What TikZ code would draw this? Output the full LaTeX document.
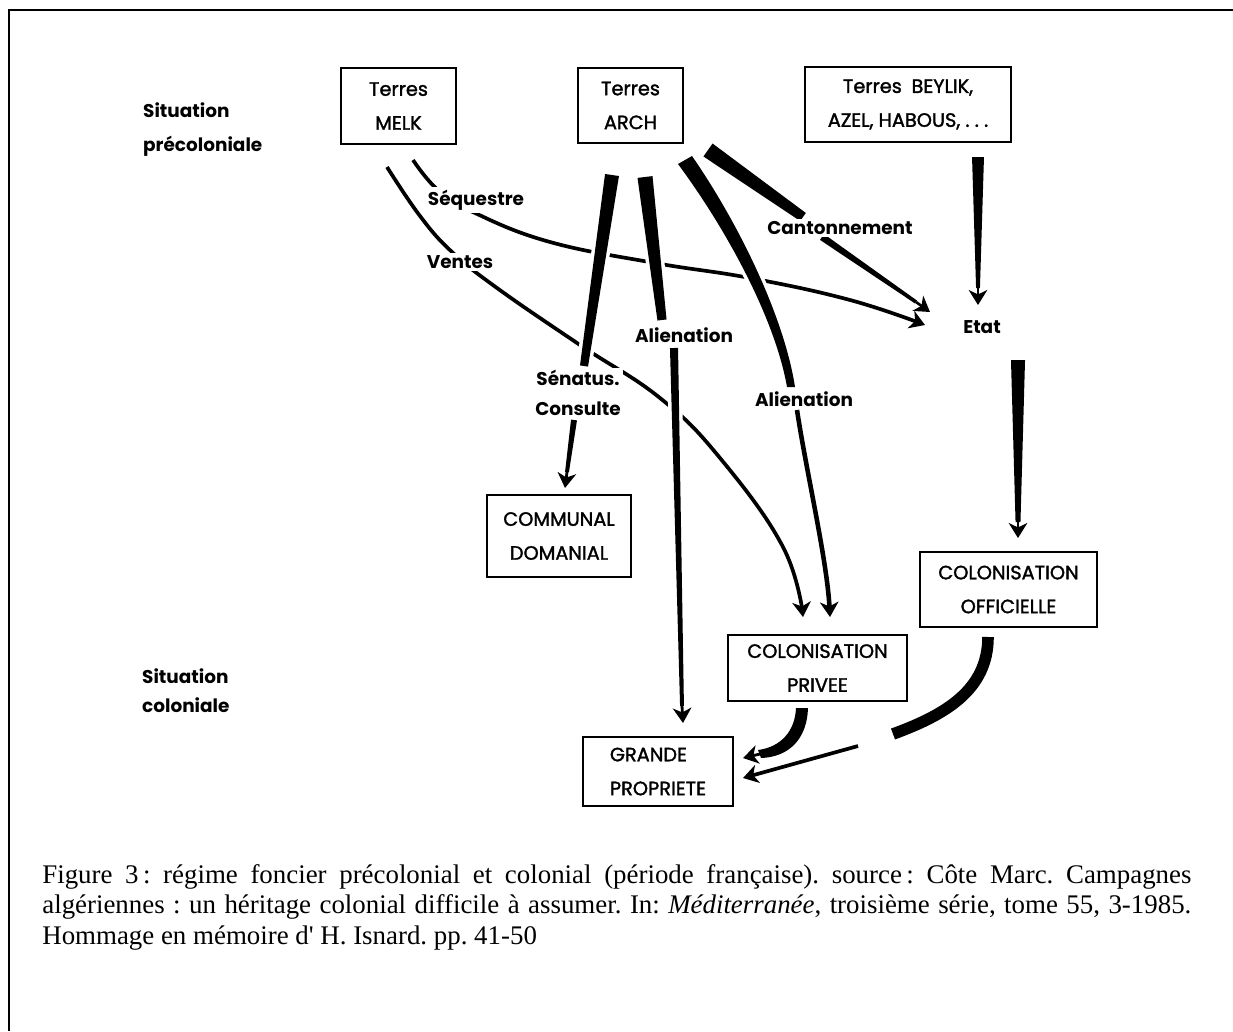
\documentclass[tikz,border=0pt]{standalone}
\usepackage{fontspec}
\setmainfont{Liberation Serif}[Mapping=]
\newfontfamily\stencil{Poppins}
\newfontfamily\stencilbox[FakeBold=1.6]{Poppins}
\usetikzlibrary{arrows.meta,calc}

\newcommand{\boxfont}{\stencilbox\fontsize{11}{19.3}\selectfont}
\newcommand{\lblfont}{\stencil\bfseries\fontsize{10.5}{17}\selectfont}
% tapered stroke: start, end, half width at start, half width at end
\newcommand{\taper}[4]{\fill[halo] ($(#1)!#3!90:(#2)$) -- ($(#1)!#3!-90:(#2)$)
  -- ($(#2)!#4!90:(#1)$) -- ($(#2)!#4!-90:(#1)$) -- cycle;}

\begin{document}
\begin{tikzpicture}[x=0.02cm, y=-0.02cm,
  box/.style={draw, line width=1.6pt, inner sep=0pt, align=center, font=\boxfont},
  lbl/.style={inner sep=1.5pt, fill=white, font=\lblfont},
  arrowtip/.style={-{Stealth[length=8.5pt,width=10.5pt,inset=2.5pt]}},
  thinline/.style={line width=2.1pt},
  halo/.style={preaction={draw=white, line width=4pt, line join=round}}]

\useasboundingbox (0,0) rectangle (1233,1031);
% page frame, only left and top
\draw[line width=1.15pt] (9,1031) -- (9,10) -- (1233,10);

%% boxes
\node[box, minimum width=2.30cm, minimum height=1.52cm] (melk) at (398.5,106) {Terres\\MELK};
\node[box, minimum width=2.10cm, minimum height=1.50cm] (arch) at (630.5,105.5) {Terres\\ARCH};
\node[box, minimum width=4.12cm, minimum height=1.50cm] (beylik) at (908,104.5)
  {Terres\enspace BEYLIK,\\AZEL, HABOUS,\kern3pt.\kern3pt.\kern3pt.};
\node[box, minimum width=2.88cm, minimum height=1.64cm] (communal) at (559,536) {COMMUNAL\\DOMANIAL};
\node[box, minimum width=3.58cm, minimum height=1.32cm] (privee) at (817.5,668) {COLONISATION\\PRIVEE};
\node[box, minimum width=3.54cm, minimum height=1.50cm] (officielle) at (1008.5,589.5) {COLONISATION\\OFFICIELLE};
\node[box, align=left, minimum width=3.00cm, minimum height=1.38cm] (grande) at (658,771.5) {GRANDE\\ PROPRIETE};

%% end points of the flows
\coordinate (be1) at (978,157);  \coordinate (be2) at (978,288);  \coordinate (be3) at (978,305);
\coordinate (eo1) at (1018,360); \coordinate (eo2) at (1018,522); \coordinate (eo3) at (1018,538);
\coordinate (ca1) at (708,150);  \coordinate (ca2) at (803,217);
\coordinate (ca3) at (822,237);  \coordinate (ca4) at (916,302);  \coordinate (ca5) at (930,312);
\coordinate (se1) at (612,175);  \coordinate (se2) at (584,366);
\coordinate (se3) at (574,420);  \coordinate (se4) at (567,472);  \coordinate (se5) at (565,488);
\coordinate (al1) at (645,177);  \coordinate (al2) at (662,320);
\coordinate (al3) at (674,348);  \coordinate (al4) at (682,706);  \coordinate (al5) at (683,723);
\coordinate (ar1) at (685,160);  \coordinate (ar2) at (791,387);
\coordinate (ar3) at (797,410);  \coordinate (ar4) at (830,617);
\coordinate (pg1) at (802,708);  \coordinate (pg2) at (760,754);  \coordinate (pg3) at (743,758);
\coordinate (og1) at (988,637);  \coordinate (og2) at (893,734);
\coordinate (og3) at (858,746);  \coordinate (og4) at (743,778);

%% thin flows out of MELK
% sequestre
\draw[thinline, arrowtip] plot[smooth, tension=0.7] coordinates
  {(413,160) (438,190) (475,213) (550,242) (655,263) (750,278) (850,300) (925,325)};
% ventes
\draw[thinline, arrowtip] plot[smooth, tension=0.7] coordinates
  {(387,167) (420,216) (452,252) (497,288) (580,345) (660,398) (720,458) (783,547) (803,617)};

%% thick flows, white halo where they cut the thin lines
\taper{be1}{be2}{3.4pt}{1.1pt}
\draw[arrowtip, line width=1.6pt] (be2) -- (be3);
\taper{eo1}{eo2}{4pt}{1.4pt}
\draw[arrowtip, line width=1.6pt] (eo2) -- (eo3);
% cantonnement
\taper{ca1}{ca2}{4.5pt}{2.8pt}
\taper{ca3}{ca4}{2pt}{1pt}
\draw[arrowtip, line width=1.5pt] (ca4) -- (ca5);
% senatus-consulte
\taper{se1}{se2}{4pt}{2.3pt}
\taper{se3}{se4}{1.7pt}{1.1pt}
\draw[arrowtip, line width=1.6pt] (se4) -- (se5);
% alienation to the large estates
\taper{al1}{al2}{4.3pt}{2.6pt}
\taper{al3}{al4}{2.3pt}{1.1pt}
\draw[arrowtip, line width=1.6pt] (al4) -- (al5);
% alienation to private colonisation
\fill[halo] (678,164) .. controls (729,233) and (775.5,321) .. (787,387)
  -- (795,387) .. controls (784.5,319) and (741,227) .. (692,156) -- cycle;
\draw[line width=2.6pt, arrowtip] (ar3) .. controls (806,470) and (827,560) .. (ar4);

%% towards the large estates
\fill (796,708) .. controls (795,731) and (781,747) .. (758,750)
  -- (761,758) .. controls (789,757) and (807,739) .. (808,708) -- cycle;
\draw[arrowtip, line width=1.6pt] (pg2) -- (pg3);
\draw[line width=6.6pt] (og1) .. controls (988,690) and (945,715) .. (og2);
\draw[thinline, arrowtip] (og3) -- (og4);

%% labels
\node[anchor=west, align=left, font=\stencil\bfseries\fontsize{10.5}{19.3}\selectfont] (precol) at (137,130)
  {Situation\\précoloniale};
\node[anchor=west, align=left, font=\stencil\bfseries\fontsize{10.5}{16.5}\selectfont] (colon) at (136,691)
  {Situation\\coloniale};
\node[lbl] (sequestre) at (476,200) {Séquestre};
\node[lbl] (ventes) at (460,262) {Ventes};
\node[lbl] (canton) at (840,228) {Cantonnement};
\node[lbl] (etat) at (982,327) {Etat};
\node[lbl] (alien1) at (684,335) {Alienation};
\node[lbl] (alien2) at (804,399) {Alienation};
\node[lbl, align=center, font=\stencil\bfseries\fontsize{10.5}{17}\selectfont] (senatus) at (578,393)
  {Sénatus.\\Consulte};

%% caption
\node[anchor=base west, inner sep=0pt] (caption) at (42,883)
  {\parbox[t]{654pt}{\fontsize{15.3}{17.4}\selectfont\frenchspacing\hyphenpenalty=10000
  Figure 3\,: régime foncier précolonial et colonial (période française). source\,: Côte Marc. Campagnes
  algériennes : un héritage colonial difficile à assumer. In: \textit{Méditerranée}, troisième série, tome 55, 3-1985.
  Hommage en mémoire d' H. Isnard. pp. 41-50}};

\end{tikzpicture}
\end{document}
